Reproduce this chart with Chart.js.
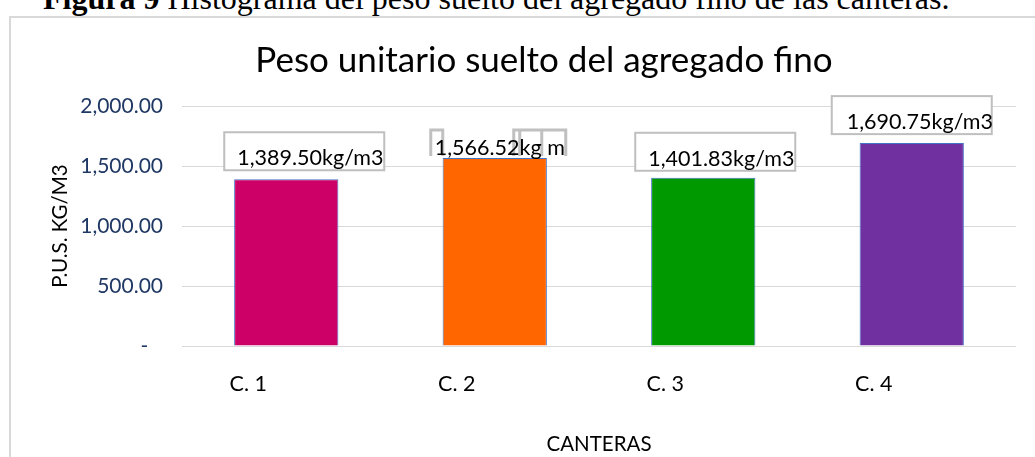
<!DOCTYPE html>
<html>
<head>
<meta charset="utf-8">
<title>Peso unitario suelto del agregado fino</title>
<script src="https://cdn.jsdelivr.net/npm/chart.js@4.4.0/dist/chart.umd.min.js"></script>
<style>
  html, body { margin: 0; padding: 0; background: #fff; }
  body { width: 1035px; height: 457px; overflow: hidden; position: relative; }
  #caption { position: absolute; left: 43px; top: -18px; font-family: "Liberation Serif", serif; font-size: 32px; line-height: 1; white-space: nowrap; color: #000; }
  #frame { position: absolute; left: 9px; top: 16px; width: 1100px; height: 500px; border-left: 2px solid #d9d9d9; border-top: 2px solid #d9d9d9; }
  #grafico { position: absolute; left: 0; top: 0; }
</style>
</head>
<body>
<div id="caption"><b>Figura 9</b> Histograma del peso suelto del agregado fino de las canteras.</div>
<div id="frame"></div>
<canvas id="grafico" width="1035" height="457"></canvas>
<script>
// datos
const canteras = ['C. 1', 'C. 2', 'C. 3', 'C. 4'];
const pesoUnitario = [1389.50, 1566.52, 1401.83, 1690.75];
const coloresBarra = ['#CC0066', '#FF6600', '#009900', '#7030A0'];
const ticksY = [0, 500, 1000, 1500, 2000];

const fuente = 'Lato';

function formato(n) {
    return n.toLocaleString('en-US', { minimumFractionDigits: 2, maximumFractionDigits: 2 });
}

// posicion de cada caja de etiqueta respecto al centro y tope de la barra
const cajas = [
    { dx: -62, dy: -47, w: 160, h: 38, pad: 13 },
    null,
    { dx: -68, dy: -45, w: 160, h: 38, pad: 13 },
    { dx: -80, dy: -47, w: 160, h: 38, pad: 15 }
];

const etiquetas = {
    id: 'etiquetas',
    afterDatasetsDraw(chart) {
        const ctx = chart.ctx;
        const meta = chart.getDatasetMeta(0);
        ctx.save();
        ctx.font = '21.5px ' + fuente;
        ctx.textAlign = 'left';
        ctx.textBaseline = 'alphabetic';
        meta.data.forEach((bar, i) => {
            const texto = formato(pesoUnitario[i]) + 'kg/m3';
            const c = cajas[i];
            if (c) {
                const x = bar.x + c.dx, y = bar.y + c.dy;
                ctx.fillStyle = '#fff';
                ctx.fillRect(x, y, c.w, c.h);
                ctx.strokeStyle = '#bfbfbf';
                ctx.lineWidth = 2;
                ctx.strokeRect(x, y, c.w, c.h);
                ctx.fillStyle = '#000';
                ctx.fillText(texto, x + c.pad, y + c.h - 5);
            } else {
                // etiqueta de C. 2 con la caja rota, como en el original
                ctx.strokeStyle = '#c0c0c0';
                ctx.lineWidth = 3;
                const top = bar.y - 28, bot = bar.y - 2;
                ctx.beginPath();
                ctx.moveTo(bar.x - 64, bot); ctx.lineTo(bar.x - 64, top); ctx.lineTo(bar.x - 52, top); ctx.lineTo(bar.x - 52, bot);
                ctx.moveTo(bar.x + 19, bot); ctx.lineTo(bar.x + 19, top); ctx.lineTo(bar.x + 71, top); ctx.lineTo(bar.x + 71, bot);
                ctx.moveTo(bar.x + 25, top); ctx.lineTo(bar.x + 25, bot);
                ctx.moveTo(bar.x + 47, top); ctx.lineTo(bar.x + 47, bot);
                ctx.stroke();
                ctx.fillStyle = '#000';
                ctx.fillText(texto.replace('/m3', ' m'), bar.x - 60, bar.y - 3);
            }
        });
        ctx.restore();
    }
};

new Chart(document.getElementById('grafico'), {
    type: 'bar',
    data: {
        labels: canteras,
        datasets: [{
            label: 'P.U.S.',
            data: pesoUnitario,
            backgroundColor: coloresBarra,
            borderColor: '#4472C4',
            borderWidth: 1,
            barPercentage: 0.5,
            categoryPercentage: 1.0
        }]
    },
    options: {
        responsive: false,
        animation: false,
        devicePixelRatio: 1,
        layout: { padding: { left: 72, right: 19, top: 0, bottom: 0 } },
        plugins: {
            legend: { display: false },
            tooltip: { enabled: false },
            title: {
                display: true,
                text: 'Peso unitario suelto del agregado fino',
                color: '#000',
                font: { family: fuente, size: 35, weight: 'normal' },
                padding: { top: 40, bottom: 24 }
            }
        },
        scales: {
            x: {
                grid: { display: false },
                border: { display: false },
                ticks: { color: '#000', font: { family: fuente, size: 21.5 }, padding: 17, labelOffset: -38 },
                title: { display: true, text: 'CANTERAS', color: '#000', font: { family: fuente, size: 20.5 }, padding: { top: 0, bottom: 0 } },
                afterFit(scale) { scale.height = 111; }
            },
            y: {
                min: 0,
                max: 2000,
                afterBuildTicks(scale) { scale.ticks = ticksY.map(v => ({ value: v })); },
                grid: { color: '#d9d9d9', lineWidth: 1, drawTicks: false },
                border: { display: false },
                ticks: {
                    color: '#1F3864',
                    font: { family: fuente, size: 21 },
                    padding: 19,
                    callback: v => v === 0 ? '-\u2007\u2009' : formato(v)
                },
                title: { display: true, text: 'P.U.S. KG/M3', color: '#000', font: { family: fuente, size: 20.5 }, padding: { top: -24, bottom: 0 } },
                afterFit(scale) { scale.width = 110; }
            }
        }
    },
    plugins: [etiquetas]
});
</script>
</body>
</html>
